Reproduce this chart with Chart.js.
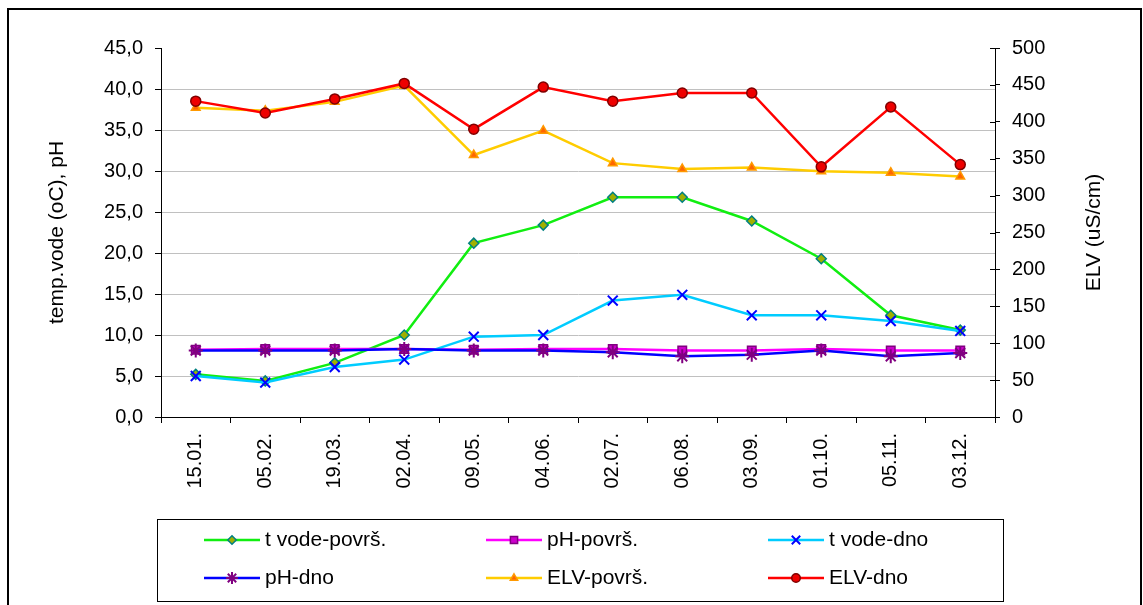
<!DOCTYPE html>
<html>
<head>
<meta charset="utf-8">
<script src="https://cdn.jsdelivr.net/npm/chart.js@4/dist/chart.umd.min.js"></script>
<style>
    body { margin: 0; background: #fff; }
    #wrap { position: relative; width: 1143px; height: 605px; overflow: hidden; }
    #chart { position: absolute; left: 0; top: 0; }
    .frame { position: absolute; pointer-events: none; }
    #outer { left: 7px; top: 8px; width: 1131px; height: 700px; border: 2px solid #000; }
    #legend-box { left: 157px; top: 519px; width: 845px; height: 81px; border: 1px solid #000; }
</style>
</head>
<body>
<div id="wrap">
    <canvas id="chart" width="1143" height="605"></canvas>
    <div id="outer" class="frame"></div>
    <div id="legend-box" class="frame"></div>
</div>
<script>
// Dates of sampling
const categories = ['15.01.', '05.02.', '19.03.', '02.04.', '09.05.', '04.06.', '02.07.', '06.08.', '03.09.', '01.10.', '05.11.', '03.12.'];

// Left axis series (temperature oC, pH)
const tVodePovrs = [5.2, 4.4, 6.6, 10.0, 21.2, 23.4, 26.8, 26.8, 23.9, 19.3, 12.4, 10.6];
const phPovrs = [8.2, 8.3, 8.3, 8.3, 8.2, 8.3, 8.3, 8.1, 8.1, 8.3, 8.1, 8.1];
const tVodeDno = [5.0, 4.2, 6.1, 7.0, 9.8, 10.0, 14.2, 14.9, 12.4, 12.4, 11.7, 10.5];
const phDno = [8.1, 8.1, 8.1, 8.3, 8.1, 8.1, 7.9, 7.4, 7.6, 8.1, 7.4, 7.8];

// Right axis series (ELV uS/cm)
const elvPovrs = [419, 415, 427, 449, 355, 388, 344, 336, 338, 333, 331, 326];
const elvDno = [428, 412, 431, 452, 390, 447, 428, 439, 439, 339, 420, 342];

const leftTitle = 'temp.vode (oC), pH';
const rightTitle = 'ELV (uS/cm)';

const FONT = '"Liberation Sans", Arial, sans-serif';

function series(label, data, axis, line, style, fill, border, radius, bw) {
    return {
        label: label,
        data: data,
        yAxisID: axis,
        borderColor: line,
        backgroundColor: line,
        borderWidth: 2.5,
        pointStyle: style,
        pointBackgroundColor: fill,
        pointBorderColor: border,
        pointBorderWidth: bw,
        pointRadius: radius,
        tension: 0,
        fill: false
    };
}

const datasets = [
    series('t vode-površ.', tVodePovrs, 'y', '#11ee11', 'rectRot', '#a0b000', '#008080', 5, 1.5),
    series('pH-površ.', phPovrs, 'y', '#ff00ff', 'rect', '#cc00cc', '#800080', 6, 1.5),
    series('t vode-dno', tVodeDno, 'y', '#00ccff', 'crossRot', '#0000ff', '#0000ff', 7, 2),
    series('pH-dno', phDno, 'y', '#0000ff', 'star', '#800080', '#800080', 7, 2),
    series('ELV-površ.', elvPovrs, 'y1', '#ffcc00', 'triangle', '#ff6600', '#ff9900', 5, 1.5),
    series('ELV-dno', elvDno, 'y1', '#ff0000', 'circle', '#ee0000', '#800000', 5, 1.5)
];
// later series are drawn on top, like the original
datasets.forEach((d, i) => { d.order = datasets.length - i; });

// Legend layout (3 columns, 2 rows)
const legendCols = [204, 486, 768];
const legendRows = [540, 578];

const extras = {
    id: 'extras',
    afterDraw(chart) {
        const ctx = chart.ctx;
        const area = chart.chartArea;
        ctx.save();

        // inner half of the right axis tick marks (cross style)
        const y1 = chart.scales.y1;
        ctx.strokeStyle = '#000';
        ctx.lineWidth = 1;
        y1.ticks.forEach((t, i) => {
            const y = Math.round(y1.getPixelForTick(i)) + 0.5;
            ctx.beginPath();
            ctx.moveTo(area.right - 5, y);
            ctx.lineTo(area.right, y);
            ctx.stroke();
        });

        // axis titles, both reading bottom to top
        ctx.fillStyle = '#000';
        ctx.font = '21px ' + FONT;
        ctx.textAlign = 'center';
        ctx.textBaseline = 'middle';
        const midY = (area.top + area.bottom) / 2;
        [[57, leftTitle], [1094, rightTitle]].forEach(([x, txt]) => {
            ctx.save();
            ctx.translate(x, midY);
            ctx.rotate(-Math.PI / 2);
            ctx.fillText(txt, 0, 0);
            ctx.restore();
        });

        // legend
        ctx.textAlign = 'left';
        chart.data.datasets.forEach((ds, i) => {
            const x = legendCols[i % 3];
            const y = legendRows[Math.floor(i / 3)];
            ctx.strokeStyle = ds.borderColor;
            ctx.lineWidth = ds.borderWidth;
            ctx.beginPath();
            ctx.moveTo(x, y);
            ctx.lineTo(x + 56, y);
            ctx.stroke();
            ctx.fillStyle = ds.pointBackgroundColor;
            ctx.strokeStyle = ds.pointBorderColor;
            ctx.lineWidth = ds.pointBorderWidth;
            Chart.helpers.drawPoint(ctx, {
                pointStyle: ds.pointStyle,
                radius: ds.pointRadius * 0.85,
                rotation: 0,
                borderWidth: ds.pointBorderWidth
            }, x + 28, y);
            ctx.fillStyle = '#000';
            ctx.fillText(ds.label, x + 61, y);
        });
        ctx.restore();
    }
};

const hideEdges = c => (c.tick && (c.tick.value === 0 || c.tick.value === 45)) ? 'rgba(0,0,0,0)' : '#c0c0c0';

new Chart(document.getElementById('chart'), {
    type: 'line',
    data: { labels: categories, datasets: datasets },
    options: {
        responsive: false,
        animation: false,
        layout: { padding: { top: 48, left: 0, right: 0, bottom: 0 } },
        plugins: {
            legend: { display: false },
            tooltip: { enabled: false }
        },
        scales: {
            x: {
                offset: true,
                grid: { offset: true, drawOnChartArea: false, tickLength: 6, tickColor: '#000' },
                border: { color: '#000', width: 1 },
                ticks: {
                    color: '#000',
                    font: { family: FONT, size: 20 },
                    minRotation: 90,
                    maxRotation: 90,
                    padding: 10,
                    autoSkip: false
                },
                afterFit: s => { s.height = 188; }
            },
            y: {
                position: 'left',
                min: 0,
                max: 45,
                grid: { color: hideEdges, tickLength: 6, tickColor: '#000' },
                border: { color: '#000', width: 1 },
                ticks: {
                    stepSize: 5,
                    color: '#000',
                    font: { family: FONT, size: 20 },
                    padding: 12,
                    callback: v => v.toFixed(1).replace('.', ',')
                },
                afterFit: s => { s.width = 161; }
            },
            y1: {
                position: 'right',
                min: 0,
                max: 500,
                grid: { drawOnChartArea: false, tickLength: 5, tickColor: '#000' },
                border: { color: '#000', width: 1 },
                ticks: {
                    stepSize: 50,
                    color: '#000',
                    font: { family: FONT, size: 20 },
                    padding: 12
                },
                afterFit: s => { s.width = 148; }
            }
        }
    },
    plugins: [extras]
});
</script>
</body>
</html>
